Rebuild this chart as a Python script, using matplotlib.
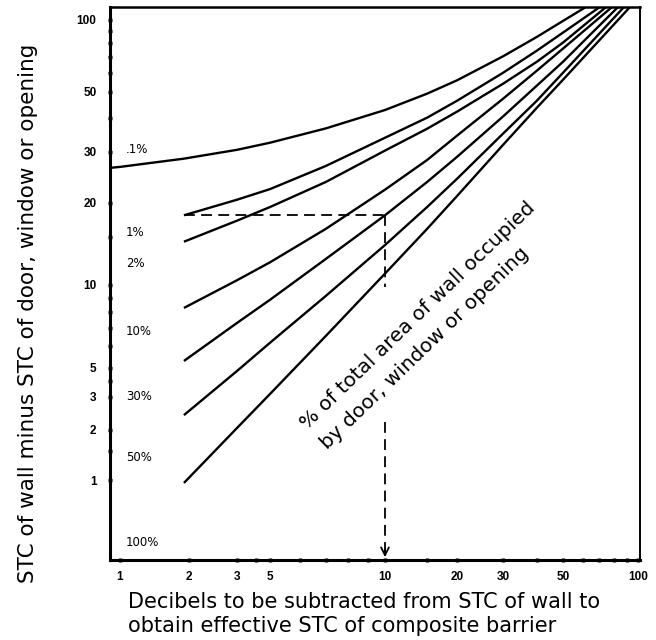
import numpy as np
import matplotlib
matplotlib.use("Agg")
import matplotlib.pyplot as plt
from matplotlib.ticker import FixedLocator, NullFormatter

# tick values on both axes
tick_values = [1, 2, 3, 5, 10, 20, 30, 50, 100]
x_minor = [4, 6, 7, 8, 9, 15, 40, 60, 70, 80, 90]
y_minor = [1.5, 4, 6, 7, 8, 9, 15, 40, 60, 70, 80, 90]

# curve labels (left side) and where they sit on the y axis
pct_labels = [".1%", "1%", "2%", "10%", "30%", "50%", "100%"]
pct_label_y = [30.5, 15.6, 12.0, 6.76, 3.0, 1.37, 0.42]

# .1% curve, starts at the left axis
x_top = [0.904, 1, 1.9, 3, 5, 7, 10, 15, 20, 30, 40, 50, 61.8]
y_top = [26.4, 26.6, 28.4, 30.5, 32.4, 36.6, 42.8, 49.2, 55.8, 70.3, 84.7, 98.8, 113]

# the other curves start at x = 1.9 and run into the top-right corner
x_pts = [1.9, 3, 5, 7, 10, 15, 20, 30, 40, 50]
y_1pct = [18.0, 20.5, 22.3, 26.8, 33.8, 40.1, 46.3, 60.0, 74.2, 88.3]
y_2pct = [14.4, 17.2, 19.3, 23.6, 30.3, 36.5, 42.2, 54.0, 66.7, 80.2]
y_10pct = [8.25, 10.4, 12.1, 16.05, 22.2, 28.1, 34.4, 47.1, 61.2, 75.7]
y_30pct = [5.3, 7.28, 8.83, 12.45, 18.0, 23.6, 28.8, 40.5, 53.0, 66.7]
y_50pct = [2.4, 4.74, 6.17, 9.12, 14.0, 19.3, 24.2, 35.0, 46.3, 60.0]
y_100pct = [0.96, 2.05, 3.16, 6.53, 11.0, 16.05, 21.1, 31.8, 43.6, 56.1]
end_x = [70.3, 74.5, 78.7, 83.2, 87.9, 92.9]
y_end = 113

# worked example: 18 dB -> 10 dB
example_x = 10
example_y = 18

# the printed axes are not quite logarithmic, so the scale follows the
# tick positions of the original (log10 value -> position)
x_cal_log = [-3, 0, 0.301, 0.477, 0.699, 1, 1.301, 1.477, 1.699, 2, 5]
x_cal_pos = [-567, 120, 189, 237, 270, 385, 457, 503, 563, 638, 1385]
y_cal_log = [-3, 0, 0.301, 0.477, 0.699, 1, 1.301, 1.477, 1.699, 2, 5]
y_cal_pos = [-978, -480, -430, -397, -368, -285, -203, -152, -92, -20, 697]


def make_scale(cal_log, cal_pos):
    def fwd(v):
        v = np.clip(np.asarray(v, dtype=float), 1e-3, 1e5)
        return np.interp(np.log10(v), cal_log, cal_pos)

    def inv(p):
        return 10 ** np.interp(p, cal_pos, cal_log)

    return fwd, inv


fig = plt.figure(figsize=(6.56, 6.40), dpi=100)
ax = fig.add_axes([110 / 656, 80 / 640, 530 / 656, 553 / 640])
ax.set_xscale("function", functions=make_scale(x_cal_log, x_cal_pos))
ax.set_yscale("function", functions=make_scale(y_cal_log, y_cal_pos))
ax.set_xlim(0.904, 101.9)
ax.set_ylim(0.33, 113)

lw = 1.7
ax.plot(x_top, y_top, color="black", lw=lw, solid_capstyle="butt")
for ys, xe in zip([y_1pct, y_2pct, y_10pct, y_30pct, y_50pct, y_100pct], end_x):
    ax.plot(x_pts + [xe], ys + [y_end], color="black", lw=lw, solid_capstyle="butt")

# dashed guide lines
dash = (0, (6, 3.5))
ax.plot([x_pts[0], example_x], [example_y, example_y], color="black", lw=1.3, linestyle=dash)
ax.plot([example_x, example_x], [example_y, 9.8], color="black", lw=1.3, linestyle=dash)
ax.plot([example_x, example_x], [2.2, 0.37], color="black", lw=1.3, linestyle=dash)
ax.annotate("", xy=(example_x, 0.33), xytext=(example_x, 0.40),
            arrowprops=dict(arrowstyle="->", color="black", lw=1.3, mutation_scale=14))

for lab, yv in zip(pct_labels, pct_label_y):
    ax.text(1.06, yv, lab, fontsize=8.5, va="center", ha="left")

ax.text(15.1, 7.1, "% of total area of wall occupied\nby door, window or opening",
        rotation=44, rotation_mode="anchor", ha="center", va="center",
        multialignment="left", linespacing=1.6, fontsize=14.5)

# ticks
ax.xaxis.set_major_locator(FixedLocator(tick_values))
ax.yaxis.set_major_locator(FixedLocator(tick_values))
ax.set_xticklabels([str(v) for v in tick_values])
ax.set_yticklabels([str(v) for v in tick_values])
ax.xaxis.set_minor_locator(FixedLocator(x_minor))
ax.yaxis.set_minor_locator(FixedLocator(y_minor))
ax.xaxis.set_minor_formatter(NullFormatter())
ax.yaxis.set_minor_formatter(NullFormatter())
ax.tick_params(which="both", direction="inout", length=3.5, width=2.5, color="black")
ax.tick_params(axis="x", which="major", pad=6)
ax.tick_params(axis="y", which="major", pad=8)
for t in ax.get_xticklabels() + ax.get_yticklabels():
    t.set_fontsize(8.5)
    t.set_fontweight("bold")
    t.set_family("Liberation Sans")

ax.spines["left"].set_linewidth(2.2)
ax.spines["bottom"].set_linewidth(2.2)
ax.spines["top"].set_linewidth(1.8)
ax.spines["right"].set_linewidth(1.4)

fig.text(28 / 656, 1 - 313 / 640, "STC of wall minus STC of door, window or opening",
         rotation=90, ha="center", va="center", fontsize=15.5)
fig.text(128 / 656, 1 - 614 / 640,
         "Decibels to be subtracted from STC of wall to\nobtain effective STC of composite barrier",
         ha="left", va="center", fontsize=15, linespacing=1.3)

fig.savefig("out.png", dpi=100)
